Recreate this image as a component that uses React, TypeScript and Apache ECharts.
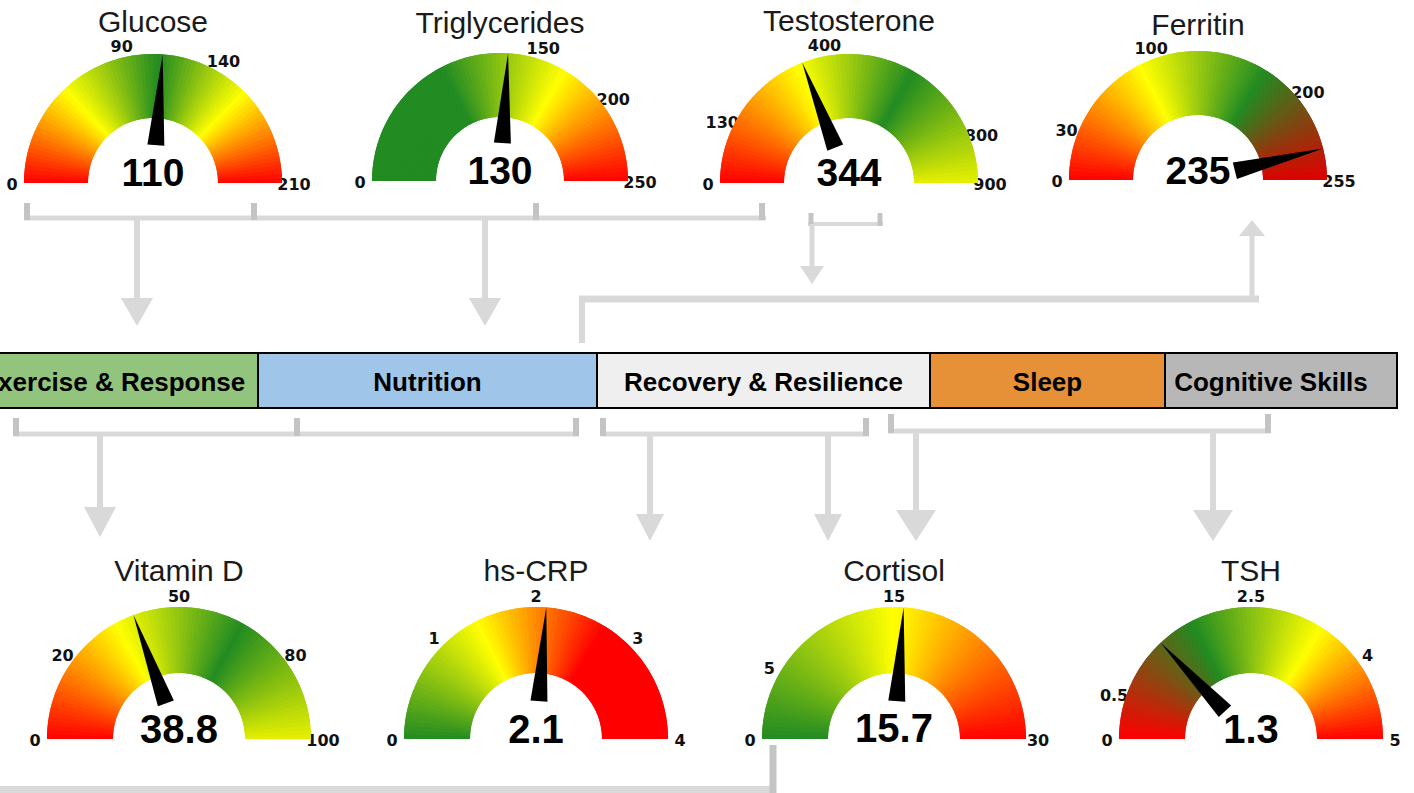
import React, { useEffect, useRef } from "react";
import * as echarts from "echarts";

// ---------------- data ----------------
const gaugeNames = ["Glucose", "Triglycerides", "Testosterone", "Ferritin", "Vitamin D", "hs-CRP", "Cortisol", "TSH"];
const gaugeValues = [110, 130, 344, 235, 38.8, 2.1, 15.7, 1.3];
const gaugeMin = [0, 0, 0, 0, 0, 0, 0, 0];
const gaugeMax = [210, 250, 900, 255, 100, 4, 30, 5];
const gaugeTicks = [
  [0, 90, 140, 210],
  [0, 150, 200, 250],
  [0, 130, 400, 800, 900],
  [0, 30, 100, 200, 255],
  [0, 20, 50, 80, 100],
  [0, 1, 2, 3, 4],
  [0, 5, 15, 30],
  [0, 0.5, 2.5, 4, 5],
];
const categories = ["Exercise & Response", "Nutrition", "Recovery & Resilience", "Sleep", "Cognitive Skills"];

// ---------------- styling ----------------
const RED = "#ff0000";
const YEL = "#ffff00";
const GRN = "#228b22";
const LIME = "#e6f000";
const gaugeColorStops: [number, string][][] = [
  [[0, RED], [54, YEL], [108, GRN], [158, YEL], [210, RED]],
  [[0, GRN], [87, GRN], [167, YEL], [250, RED]],
  [[0, RED], [330, YEL], [600, GRN], [900, LIME]],
  [[0, RED], [89, YEL], [172, GRN], [255, "#e00000"]],
  [[0, RED], [34, YEL], [66, GRN], [100, LIME]],
  [[0, GRN], [1.4, YEL], [2.7, RED], [4, RED]],
  [[0, GRN], [15, YEL], [30, RED]],
  [[0, RED], [1.75, GRN], [3.4, YEL], [5, RED]],
];
const categoryColors = ["#93c47d", "#9fc5e8", "#efefef", "#e69138", "#b7b7b7"];

// ---------------- layout ----------------
const layoutCx = [153, 500, 849, 1198, 179, 536, 894, 1251];
const layoutCy = [183, 181, 183, 180, 739, 739, 739, 739];
const layoutR = [129, 128, 129, 129, 132, 132, 132, 132];
const layoutBand = [64, 64, 64, 64, 66, 66, 66, 66];
const layoutTitleDy = [-162, -159, -163, -156, -169, -169, -169, -169];
const layoutDetailDy = [-11, -11, -11, -10, -10, -10, -11, -10];
const bandX = [-28, 258, 597, 930, 1165, 1397];
const bandTextX = [113, 427.5, 763.5, 1047.5, 1271];
const bandTop = 353;
const bandBottom = 408;

const FONT = "'Liberation Sans', Arial, Helvetica, sans-serif";
const TICK_FONT = "'DejaVu Sans', Verdana, sans-serif";
const GRAY = "#d9d9d9";
const TICK = "#c4c4c4";
const SEG = 90;

function hexToRgb(h: string) {
  const n = parseInt(h.slice(1), 16);
  return [(n >> 16) & 255, (n >> 8) & 255, n & 255];
}
function colorAt(stops: [number, string][], v: number) {
  if (v <= stops[0][0]) return stops[0][1];
  for (let i = 1; i < stops.length; i++) {
    if (v <= stops[i][0]) {
      const [v0, c0] = stops[i - 1];
      const [v1, c1] = stops[i];
      const t = (v - v0) / (v1 - v0 || 1);
      const a = hexToRgb(c0);
      const b = hexToRgb(c1);
      const m = a.map((x, k) => Math.round(x + (b[k] - x) * t));
      return `rgb(${m[0]},${m[1]},${m[2]})`;
    }
  }
  return stops[stops.length - 1][1];
}
function segments(i: number, shifted: boolean) {
  const min = gaugeMin[i];
  const max = gaugeMax[i];
  const stops = gaugeColorStops[i];
  const out: [number, string][] = [];
  const at = (f: number) => colorAt(stops, min + f * (max - min));
  if (!shifted) {
    for (let k = 1; k <= SEG; k++) out.push([k / SEG, at((k - 0.5) / SEG)]);
  } else {
    out.push([0.5 / SEG, at(0.25 / SEG)]);
    for (let k = 1; k < SEG; k++) out.push([(k + 0.5) / SEG, at(k / SEG)]);
    out.push([1, at((SEG - 0.25) / SEG)]);
  }
  return out;
}

function line(x1: number, y1: number, x2: number, y2: number, w: number, c: string) {
  return { type: "line", silent: true, shape: { x1, y1, x2, y2 }, style: { stroke: c, lineWidth: w } };
}
function arrow(x: number, y0: number, yBase: number, half: number, yTip: number, w: number) {
  return [
    line(x, y0, x, yBase + (yTip > yBase ? 2 : -2), w, GRAY),
    {
      type: "polygon",
      silent: true,
      shape: { points: [[x - half, yBase], [x + half, yBase], [x, yTip]] },
      style: { fill: GRAY },
    },
  ];
}

function buildOption() {
  const series: any[] = [];
  const elements: any[] = [];

  gaugeNames.forEach((name, i) => {
    const common = {
      type: "gauge",
      center: [layoutCx[i], layoutCy[i]],
      radius: layoutR[i],
      startAngle: 180,
      endAngle: 0,
      min: gaugeMin[i],
      max: gaugeMax[i],
      splitNumber: 4,
      axisTick: { show: false },
      splitLine: { show: false },
      axisLabel: { show: false },
      anchor: { show: false },
      progress: { show: false },
    };
    series.push({
      ...common,
      z: 1,
      axisLine: { lineStyle: { width: layoutBand[i], color: segments(i, true) } },
      pointer: { show: false },
      title: { show: false },
      detail: { show: false },
      data: [{ value: gaugeMin[i] }],
    });
    series.push({
      ...common,
      z: 2,
      axisLine: { lineStyle: { width: layoutBand[i], color: segments(i, false) } },
      pointer: {
        show: true,
        icon: "triangle",
        width: 17,
        length: layoutR[i] - 38,
        offsetCenter: [0, -38],
        itemStyle: { color: "#000" },
      },
      title: {
        show: true,
        offsetCenter: [0, layoutTitleDy[i]],
        fontSize: 30,
        color: "#1a1a1a",
        fontFamily: FONT,
      },
      detail: {
        show: true,
        offsetCenter: [0, layoutDetailDy[i]],
        fontSize: i < 4 ? 39 : 40,
        fontWeight: "bold",
        color: "#000",
        fontFamily: FONT,
        formatter: "{value}",
        valueAnimation: false,
      },
      data: [{ value: gaugeValues[i], name }],
    });

    // tick labels placed on the gauge's own angular scale
    gaugeTicks[i].forEach((t) => {
      const frac = (t - gaugeMin[i]) / (gaugeMax[i] - gaugeMin[i]);
      const th = Math.PI * (1 - frac);
      const rr = layoutR[i] + 12;
      elements.push({
        type: "text",
        silent: true,
        x: layoutCx[i] + rr * Math.cos(th),
        y: layoutCy[i] - rr * Math.sin(th) + 1,
        style: {
          text: String(t),
          fontFamily: TICK_FONT,
          fontWeight: "bold",
          fontSize: 16,
          fill: "#111",
          align: "center",
          verticalAlign: "middle",
        },
      });
    });
  });

  // category band
  categories.forEach((c, k) => {
    elements.push({
      type: "rect",
      silent: true,
      shape: { x: bandX[k], y: bandTop, width: bandX[k + 1] - bandX[k], height: bandBottom - bandTop },
      style: { fill: categoryColors[k], stroke: "#000", lineWidth: 2 },
    });
    elements.push({
      type: "text",
      silent: true,
      x: bandTextX[k],
      y: (bandTop + bandBottom) / 2 + 1,
      style: {
        text: c,
        fontFamily: FONT,
        fontWeight: "bold",
        fontSize: 26,
        fill: "#000",
        align: "center",
        verticalAlign: "middle",
      },
    });
  });

  // connectors (top)
  elements.push(line(24, 218, 766, 218, 5, GRAY));
  [27, 254, 536, 762].forEach((x) => elements.push(line(x, 203, x, 220, 6, TICK)));
  elements.push(...arrow(137, 218, 298, 16, 326, 6));
  elements.push(...arrow(485, 218, 298, 16, 326, 6));
  elements.push(line(808, 224, 883, 224, 4, GRAY));
  [811, 880].forEach((x) => elements.push(line(x, 213, x, 226, 5, TICK)));
  elements.push(...arrow(812, 224, 266, 12, 284, 5));
  elements.push(line(582, 343, 582, 296, 6, GRAY));
  elements.push(line(579, 299, 1259, 299, 7, GRAY));
  elements.push(...arrow(1252, 299, 236, 13, 220, 5));

  // connectors (bottom)
  elements.push(line(14, 434, 579, 434, 5, GRAY));
  [16, 297, 576].forEach((x) => elements.push(line(x, 418, x, 436, 6, TICK)));
  elements.push(...arrow(100, 434, 507, 16, 537, 6));
  elements.push(line(601, 434, 869, 434, 5, GRAY));
  [603, 866].forEach((x) => elements.push(line(x, 418, x, 436, 6, TICK)));
  elements.push(...arrow(650, 434, 514, 14, 541, 6));
  elements.push(...arrow(828, 434, 514, 14, 541, 6));
  elements.push(line(888, 431, 1271, 431, 5, GRAY));
  [891, 1268].forEach((x) => elements.push(line(x, 414, x, 433, 6, TICK)));
  elements.push(...arrow(916, 431, 510, 20, 541, 6));
  elements.push(...arrow(1213, 431, 510, 20, 541, 6));
  elements.push(line(0, 790, 776, 790, 8, GRAY));
  elements.push(line(773, 745, 773, 793, 7, TICK));

  return {
    animation: false,
    backgroundColor: "#ffffff",
    series,
    graphic: { elements },
  };
}

export default function App() {
  const ref = useRef<HTMLDivElement>(null);
  useEffect(() => {
    if (!ref.current) return;
    const chart = echarts.init(ref.current, undefined, { renderer: "svg" });
    chart.setOption(buildOption() as any);
    return () => chart.dispose();
  }, []);
  return (
    <div
      ref={ref}
      style={{ position: "fixed", left: 0, top: 0, width: 1414, height: 793, background: "#fff" }}
    />
  );
}
